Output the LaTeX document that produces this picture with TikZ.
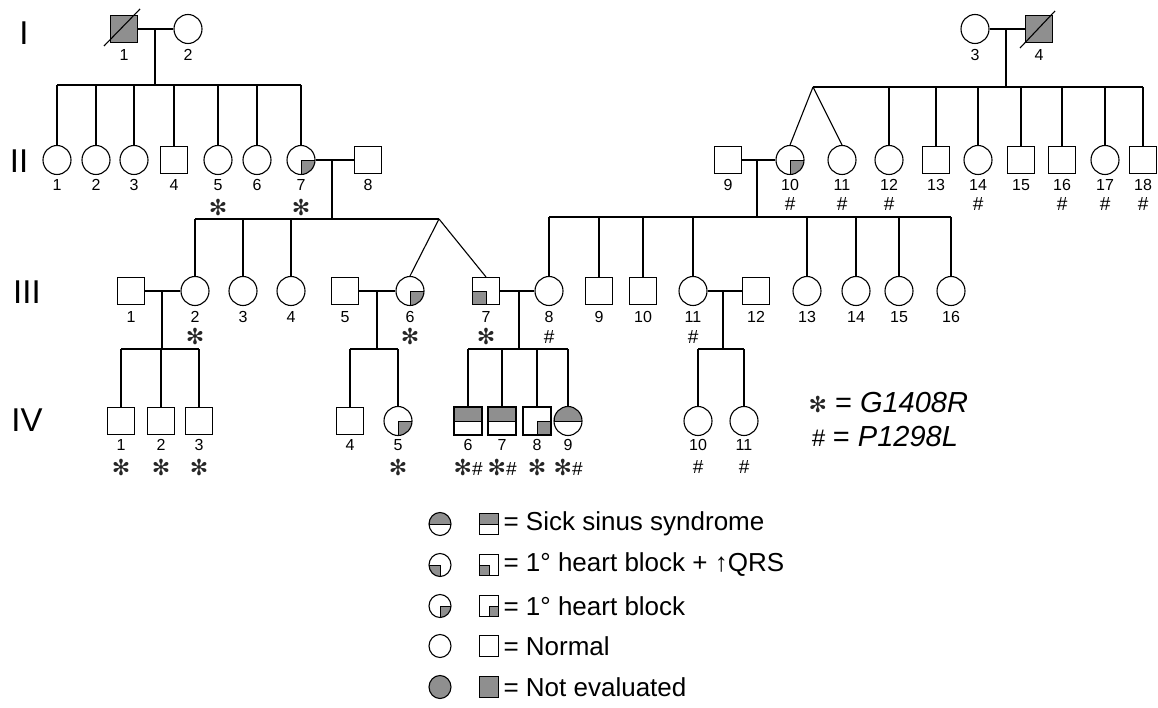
\documentclass[tikz,border=0pt]{standalone}
\usepackage{fontspec}
\setmainfont{Liberation Sans}
\newfontfamily\dejavu{DejaVu Sans}
\usetikzlibrary{shapes.geometric}
\definecolor{aff}{gray}{0.56}
\definecolor{ink}{gray}{0.15}
\newcommand\ask{{\dejavu\fontsize{22}{22}\selectfont\color{ink}✻}}
\newcommand\hsh{{\itshape\fontsize{19}{19}\selectfont\#}}
\newcommand\lo{26}
\newcommand\mo{46}
\newcommand\pers[5]{\node[#2] (#1) at (#3,#4) {}; \node[num] (#1n) at ([yshift=-\lo pt]#1.center) {#5};}
\newcommand\mk[2]{\node[mut] (#1m) at ([yshift=-\mo pt]#1.center) {#2};}
\begin{document}
\begin{tikzpicture}[x=1pt,y=-1pt,line width=1.1pt,
 male/.style={draw,rectangle,minimum width=27pt,minimum height=27pt,inner sep=0pt},
 female/.style={draw,ellipse,minimum width=28pt,minimum height=29pt,inner sep=0pt},
 nev/.style={fill=aff},
 qLR/.style={path picture={\filldraw[fill=aff,line width=0.7pt] (path picture bounding box.center) rectangle (path picture bounding box.south east);}},
 qLL/.style={path picture={\filldraw[fill=aff,line width=0.7pt] (path picture bounding box.center) rectangle (path picture bounding box.south west);}},
 tophalf/.style={path picture={\filldraw[fill=aff,line width=0.7pt] (path picture bounding box.north west) rectangle (path picture bounding box.east);}},
 num/.style={inner sep=0pt,font=\fontsize{16}{16}\selectfont},
 mut/.style={inner sep=0pt},
 gen/.style={inner sep=0pt,font=\fontsize{33}{33}\selectfont},
 lmale/.style={male,minimum width=19pt,minimum height=21pt},
 lfemale/.style={female,minimum width=22pt,minimum height=23pt},
 ltext/.style={anchor=west,inner sep=0pt,font=\fontsize{26}{26}\selectfont},
]
\useasboundingbox (0,0) rectangle (1158,708);

% generation labels
\node[gen] (gI) at (24,33) {I};
\node[gen] (gII) at (19,161) {II};
\node[gen] (gIII) at (27,292) {III};
\node[gen] (gIV) at (27,420) {IV};

% ---------- generation I ----------
\pers{I1}{male,nev}{124}{29}{1}
\pers{I2}{female}{188}{29}{2}
\pers{I3}{female}{975}{29}{3}
\pers{I4}{male,nev}{1039}{29}{4}
\draw (I1.center) ++(-20pt,-17pt) -- ++(36pt,37pt);
\draw (I4.center) ++(-19pt,-19pt) -- ++(35pt,37pt);

% ---------- generation II ----------
\renewcommand\lo{25}
\pers{II1}{female}{57}{160}{1}
\pers{II2}{female}{96}{160}{2}
\pers{II3}{female}{134}{160}{3}
\pers{II4}{male}{174}{160}{4}
\pers{II5}{female}{218}{160}{5}
\pers{II6}{female}{257}{160}{6}
\pers{II7}{female,qLR}{301}{160}{7}
\pers{II8}{male}{368}{160}{8}
\pers{II9}{male}{728}{160}{9}
\pers{II10}{female,qLR}{790}{160}{10}
\pers{II11}{female}{842}{160}{11}
\pers{II12}{female}{889}{160}{12}
\pers{II13}{male}{936}{160}{13}
\pers{II14}{female}{978}{160}{14}
\pers{II15}{male}{1021}{160}{15}
\pers{II16}{male}{1062}{160}{16}
\pers{II17}{female}{1105}{160}{17}
\pers{II18}{male}{1143}{160}{18}
\renewcommand\mo{47}
\mk{II5}{\ask}
\mk{II7}{\ask}
\renewcommand\mo{44}
\mk{II10}{\hsh}
\mk{II11}{\hsh}
\mk{II12}{\hsh}
\mk{II14}{\hsh}
\mk{II16}{\hsh}
\mk{II17}{\hsh}
\mk{II18}{\hsh}

% I1 x I2 -> II1..II7
\draw (I1) -- (I2);
\coordinate (mI12) at (155,29);
\coordinate (sII) at (155,85);
\draw (mI12) -- (sII);
\draw (II1 |- sII) -- (II7 |- sII);
\foreach \n in {II1,II2,II3,II4,II5,II6,II7} \draw (\n |- sII) -- (\n.north);

% I3 x I4 -> II10..II18
\draw (I3) -- (I4);
\coordinate (mI34) at (1006,29);
\coordinate (sII2) at (1006,87);
\coordinate (tw1) at (813,87);
\draw (mI34) -- (sII2);
\draw (tw1) -- (II18 |- sII2);
\draw (tw1) -- (II10.north);
\draw (tw1) -- (II11.north);
\foreach \n in {II12,II13,II14,II15,II16,II17,II18} \draw (\n |- sII2) -- (\n.north);

% ---------- generation III ----------
\renewcommand\lo{26}
\pers{III1}{male}{131}{291}{1}
\pers{III2}{female}{195}{291}{2}
\pers{III3}{female}{243}{291}{3}
\pers{III4}{female}{291}{291}{4}
\pers{III5}{male}{345}{291}{5}
\pers{III6}{female,qLR}{410}{291}{6}
\pers{III7}{male,qLL}{486}{291}{7}
\pers{III8}{female}{549}{291}{8}
\pers{III9}{male}{599}{291}{9}
\pers{III10}{male}{643}{291}{10}
\pers{III11}{female}{693}{291}{11}
\pers{III12}{male}{756}{291}{12}
\pers{III13}{female}{807}{291}{13}
\pers{III14}{female}{856}{291}{14}
\pers{III15}{female}{899}{291}{15}
\pers{III16}{female}{951}{291}{16}
\renewcommand\mo{45}
\mk{III2}{\ask}
\mk{III6}{\ask}
\mk{III7}{\ask}
\renewcommand\mo{46}
\mk{III8}{\hsh}
\mk{III11}{\hsh}

% II7 x II8 -> III2,3,4,6,7
\draw (II7) -- (II8);
\coordinate (mII78) at (332,160);
\coordinate (sIII) at (332,219);
\coordinate (tw2) at (439,219);
\draw (mII78) -- (sIII);
\draw (III2 |- sIII) -- (tw2);
\foreach \n in {III2,III3,III4} \draw (\n |- sIII) -- (\n.north);
\draw (tw2) -- (III6.north);
\draw (tw2) -- (III7.north);

% II9 x II10 -> III8..III16
\draw (II9) -- (II10);
\coordinate (mII910) at (757,160);
\coordinate (sIIIb) at (757,217);
\draw (mII910) -- (sIIIb);
\draw (III8 |- sIIIb) -- (III16 |- sIIIb);
\foreach \n in {III8,III9,III10,III11,III13,III14,III15,III16} \draw (\n |- sIIIb) -- (\n.north);

% ---------- generation IV ----------
\renewcommand\lo{24}
\pers{IV1}{male}{121}{421}{1}
\pers{IV2}{male}{161}{421}{2}
\pers{IV3}{male}{199}{421}{3}
\pers{IV4}{male}{350}{421}{4}
\pers{IV5}{female,qLR}{398}{421}{5}
\pers{IV6}{male,tophalf,minimum width=28pt,minimum height=28pt}{468}{421}{6}
\pers{IV7}{male,tophalf,minimum width=28pt,minimum height=28pt}{502}{421}{7}
\pers{IV8}{male,qLR,minimum width=28pt,minimum height=28pt}{537}{421}{8}
\pers{IV9}{female,tophalf}{568}{421}{9}
\pers{IV10}{female}{698}{421}{10}
\pers{IV11}{female}{744}{421}{11}
\renewcommand\mo{46}
\mk{IV1}{\ask}
\mk{IV2}{\ask}
\mk{IV3}{\ask}
\mk{IV5}{\ask}
\mk{IV6}{\ask\hsh}
\mk{IV7}{\ask\hsh}
\mk{IV8}{\ask}
\mk{IV9}{\ask\hsh}
\mk{IV10}{\hsh}
\mk{IV11}{\hsh}

% III1 x III2
\draw (III1) -- (III2);
\coordinate (mIII12) at (162,291);
\coordinate (sIVa) at (162,349);
\draw (mIII12) -- (sIVa);
\draw (IV1 |- sIVa) -- (IV3 |- sIVa);
\foreach \n in {IV1,IV2,IV3} \draw (\n |- sIVa) -- (\n.north);

% III5 x III6
\draw (III5) -- (III6);
\coordinate (mIII56) at (377,291);
\coordinate (sIVb) at (377,349);
\draw (mIII56) -- (sIVb);
\draw (IV4 |- sIVb) -- (IV5 |- sIVb);
\foreach \n in {IV4,IV5} \draw (\n |- sIVb) -- (\n.north);

% III7 x III8
\draw (III7) -- (III8);
\coordinate (mIII78) at (519,291);
\coordinate (sIVc) at (519,349);
\draw (mIII78) -- (sIVc);
\draw (IV6 |- sIVc) -- (IV9 |- sIVc);
\foreach \n in {IV6,IV7,IV8,IV9} \draw (\n |- sIVc) -- (\n.north);

% III11 x III12
\draw (III11) -- (III12);
\coordinate (mIII1112) at (723,291);
\coordinate (sIVd) at (723,349);
\draw (mIII1112) -- (sIVd);
\draw (IV10 |- sIVd) -- (IV11 |- sIVd);
\foreach \n in {IV10,IV11} \draw (\n |- sIVd) -- (\n.north);

% ---------- mutation key ----------
\node[anchor=west,inner sep=0pt,font=\fontsize{29}{29}\selectfont] (keyA) at (808,403)
  {{\dejavu\fontsize{22}{22}\selectfont\color{ink}✻} = \textit{G1408R}};
\node[anchor=west,inner sep=0pt,font=\fontsize{29}{29}\selectfont] (keyB) at (811,437)
  {{\itshape\fontsize{24}{24}\selectfont\#} = \textit{P1298L}};

% ---------- phenotype legend ----------
\node[lfemale,tophalf] (L1c) at (440,524) {};
\node[lmale,tophalf] (L1s) at (489,524) {};
\node[ltext] (L1t) at (503,524) {= Sick sinus syndrome};
\node[lfemale,qLL] (L2c) at (440,565) {};
\node[lmale,qLL] (L2s) at (489,565) {};
\node[ltext] (L2t) at (503,565) {= 1° heart block + ↑QRS};
\node[lfemale,qLR] (L3c) at (440,606) {};
\node[lmale,qLR] (L3s) at (489,606) {};
\node[ltext] (L3t) at (503,606) {= 1° heart block};
\node[lfemale] (L4c) at (440,646) {};
\node[lmale] (L4s) at (489,646) {};
\node[ltext] (L4t) at (503,646) {= Normal};
\node[lfemale,nev] (L5c) at (440,687) {};
\node[lmale,nev] (L5s) at (489,687) {};
\node[ltext] (L5t) at (503,687) {= Not evaluated};
\end{tikzpicture}
\end{document}
